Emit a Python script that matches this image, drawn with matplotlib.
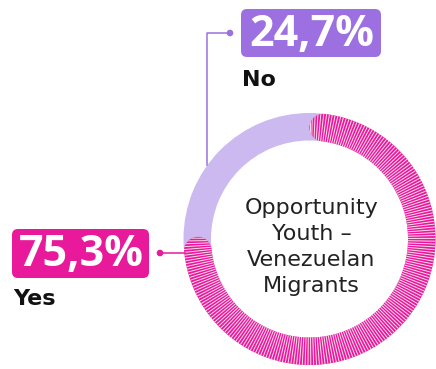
import numpy as np
import matplotlib
matplotlib.use("Agg")
import matplotlib.pyplot as plt
from matplotlib.patches import Wedge, Polygon, FancyBboxPatch, Circle

# data
labels = ["Yes", "No"]
values = [75.3, 24.7]
value_texts = ["75,3%", "24,7%"]
center_title = "Opportunity\nYouth –\nVenezuelan\nMigrants"

PINK = "#e8199a"
LAVENDER = "#cbb9f0"
PURPLE = "#9c70e0"

W, H = 436, 369
CX, CY = 309.5, 239.0
R_OUT, R_IN = 126.0, 98.5


def arc_xy(r, a0, a1, n=200):
    t = np.radians(np.linspace(a0, a1, n))
    return CX + r * np.cos(t), CY - r * np.sin(t)


def main():
    fig = plt.figure(figsize=(W / 100, H / 100), dpi=100)
    ax = fig.add_axes([0, 0, 1, 1])
    ax.set_xlim(0, W)
    ax.set_ylim(H, 0)
    ax.set_aspect("equal")
    ax.axis("off")

    # background ring (No share)
    ax.add_patch(Wedge((CX, CY), R_OUT, 0, 360, width=R_OUT - R_IN,
                       facecolor=LAVENDER, edgecolor="none"))

    # pink arc with rounded caps, clockwise from the top
    total = sum(values)
    span = values[0] / total * 360.0
    rm = (R_OUT + R_IN) / 2
    half = (R_OUT - R_IN) / 2
    cap = np.degrees(half / rm)
    a_start = 90 - cap
    a_end = 90 - span + cap
    ox, oy = arc_xy(R_OUT, a_start, a_end)
    ix, iy = arc_xy(R_IN, a_end, a_start)
    t = np.linspace(0, np.pi, 40)
    e = np.radians(a_end)
    ecx, ecy = CX + rm * np.cos(e), CY - rm * np.sin(e)
    ex = ecx + half * np.cos(e - t)
    ey = ecy - half * np.sin(e - t)
    s = np.radians(a_start)
    scx, scy = CX + rm * np.cos(s), CY - rm * np.sin(s)
    sx = scx + half * np.cos(s + np.pi - t)
    sy = scy - half * np.sin(s + np.pi - t)
    xs = np.concatenate([ox, ex, ix, sx])
    ys = np.concatenate([oy, ey, iy, sy])
    pink = Polygon(np.column_stack([xs, ys]), closed=True,
                   facecolor=PINK, edgecolor="none")
    ax.add_patch(pink)

    # white radial stripes on the pink arc
    for a in np.arange(90, 90 - span - 1, -1.3):
        r = np.radians(a)
        ln, = ax.plot([CX + (R_IN - 5) * np.cos(r), CX + (R_OUT + 5) * np.cos(r)],
                      [CY - (R_IN - 5) * np.sin(r), CY - (R_OUT + 5) * np.sin(r)],
                      color="white", lw=0.7, alpha=0.85)
        ln.set_clip_path(pink)

    # center title
    ax.text(CX + 2, CY + 8, center_title, ha="center", va="center",
            fontsize=16, color="#222222", linespacing=1.38,
            family="DejaVu Sans")

    # "No" label
    ax.add_patch(FancyBboxPatch((241, 9), 140, 48,
                                boxstyle="round,pad=0,rounding_size=6",
                                facecolor=PURPLE, edgecolor="none"))
    ax.text(312, 34, value_texts[1], ha="center", va="center",
            fontsize=31, fontweight="bold", color="white",
            family=["Open Sans", "DejaVu Sans"])
    ax.text(242, 80, labels[1], ha="left", va="center",
            fontsize=16, fontweight="bold", color="#111111")
    ax.plot([230, 207, 207], [33, 33, 164.5], color=PURPLE, lw=1.1)
    ax.add_patch(Circle((230, 33), 2.6, color=PURPLE))

    # "Yes" label
    ax.add_patch(FancyBboxPatch((12, 229), 137, 49,
                                boxstyle="round,pad=0,rounding_size=6",
                                facecolor=PINK, edgecolor="none"))
    ax.text(81, 254, value_texts[0], ha="center", va="center",
            fontsize=31, fontweight="bold", color="white",
            family=["Open Sans", "DejaVu Sans"])
    ax.text(13, 299, labels[0], ha="left", va="center",
            fontsize=16, fontweight="bold", color="#111111")
    ax.plot([160, 184.5], [253, 253], color=PINK, lw=1.1)
    ax.add_patch(Circle((160, 253), 2.6, color=PINK))

    fig.savefig("out.png", dpi=100)


if __name__ == "__main__":
    main()
